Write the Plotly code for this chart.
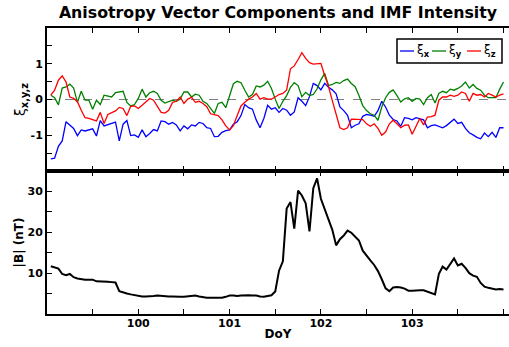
import plotly.graph_objects as go

# ---------------- data (hourly samples, DoY 99-104) ----------------
hours = list(range(1, 121))
doy = [99 + h / 24 for h in hours]

xi_x = [-1.66, -1.64, -1.31, -1.16, -0.62, -0.71, -0.81, -1.01, -0.85, -0.88,
        -0.85, -0.82, -1.02, -0.59, -0.74, -0.70, -0.67, -0.63, -1.16, -0.69,
        -0.59, -1.01, -0.99, -1.06, -0.85, -1.04, -0.95, -0.84, -0.88, -0.60,
        -0.62, -0.69, -0.64, -0.71, -0.88, -0.74, -0.82, -0.71, -0.74, -0.64,
        -0.67, -0.79, -0.81, -1.04, -1.03, -0.92, -0.87, -0.85, -0.69, -0.62,
        -0.45, -0.14, -0.23, -0.27, -0.57, -0.79, -0.53, -0.16, -0.27, -0.23,
        -0.36, -0.25, -0.30, -0.44, -0.35, 0.05, -0.05, -0.17, 0.08, 0.45,
        0.39, 0.27, 0.45, 0.34, 0.27, 0.16, -0.21, -0.31, -0.44, -0.79,
        -0.72, -0.68, -0.47, -0.42, -0.44, -0.47, -0.31, -0.05, -0.21, -0.44,
        -0.56, -0.60, -0.75, -0.51, -0.53, -0.57, -0.51, -0.53, -0.57, -0.79,
        -0.73, -0.71, -0.76, -0.79, -0.73, -0.64, -0.55, -0.67, -0.64, -0.81,
        -0.93, -0.99, -1.06, -1.10, -0.94, -1.04, -0.92, -1.06, -0.79, -0.79]

xi_y = [0.12, 0.05, -0.15, 0.32, 0.35, 0.43, 0.32, -0.08, 0.23, -0.02,
        -0.02, -0.27, -0.02, -0.14, 0.12, 0.09, 0.07, 0.19, 0.21, 0.23,
        -0.08, -0.18, -0.14, 0.03, 0.29, 0.07, 0.19, 0.23, 0.17, -0.02,
        -0.10, -0.05, -0.02, -0.05, 0.01, 0.21, 0.21, 0.07, 0.15, 0.12,
        -0.05, -0.11, -0.25, -0.39, -0.11, -0.08, -0.23, 0.12, 0.44, 0.51,
        0.47, 0.26, 0.07, 0.14, 0.38, 0.35, 0.40, 0.51, 0.31, 0.01,
        -0.25, -0.05, 0.11, 0.34, 0.47, 0.39, 0.08, 0.20, 0.11, 0.14,
        0.30, 0.55, 0.73, 0.39, 0.42, 0.48, 0.45, 0.53, 0.57, 0.45,
        0.36, 0.11, -0.17, -0.31, -0.40, -0.44, -0.58, -0.21, 0.05, 0.20,
        0.27, 0.11, -0.07, 0.02, 0.05, -0.05, 0.03, 0.01, -0.14, 0.05,
        0.14, -0.10, 0.17, 0.23, 0.19, 0.29, 0.26, 0.31, 0.38, 0.49,
        0.32, 0.42, 0.31, 0.26, 0.12, 0.05, 0.05, 0.05, 0.29, 0.49]

xi_z = [0.12, 0.26, 0.54, 0.66, 0.49, 0.07, 0.03, -0.06, -0.30, -0.51,
        -0.53, -0.57, -0.60, -0.36, -0.67, -0.42, -0.37, -0.32, -0.22, -0.25,
        -0.45, -0.19, -0.18, -0.25, -0.16, -0.05, 0.03, -0.02, -0.18, -0.36,
        -0.38, -0.30, -0.08, -0.05, 0.07, -0.11, 0.01, 0.06, -0.08, -0.05,
        -0.11, -0.20, -0.40, -0.42, -0.45, -0.57, -0.74, -0.85, -0.73, -0.45,
        -0.18, -0.08, 0.01, 0.07, 0.17, 0.01, 0.05, 0.01, 0.01, 0.07,
        0.14, 0.17, 0.27, 0.86, 0.94, 1.12, 1.31, 1.15, 1.03, 0.99,
        0.99, 1.01, 0.67, 0.36, -0.03, -0.44, -0.79, -0.84, -0.79, -0.55,
        -0.56, -0.55, -0.56, -0.68, -0.75, -0.68, -0.81, -1.00, -0.91, -0.68,
        -0.58, -0.68, -0.79, -0.72, -0.71, -0.97, -0.73, -0.53, -0.71, -0.49,
        -0.48, -0.44, -0.02, 0.07, 0.07, 0.12, 0.09, 0.12, 0.21, 0.17,
        -0.05, 0.17, 0.12, 0.14, 0.07, 0.17, 0.12, 0.07, 0.12, 0.16]

b_mag = [11.7, 11.3, 11.1, 9.8, 9.5, 9.8, 9.0, 8.7, 8.5, 8.4,
         8.4, 8.4, 8.0, 8.0, 8.0, 7.9, 7.8, 7.7, 5.6, 5.2,
         5.0, 4.8, 4.6, 4.4, 4.3, 4.3, 4.3, 4.4, 4.5, 4.4,
         4.4, 4.3, 4.3, 4.2, 4.2, 4.2, 4.3, 4.3, 4.5, 4.3,
         4.1, 4.0, 4.0, 4.0, 4.0, 4.0, 4.2, 4.5, 4.5, 4.4,
         4.5, 4.6, 4.6, 4.5, 4.5, 4.3, 4.2, 4.4, 4.6, 5.5,
         10.6, 12.9, 25.8, 27.4, 20.9, 30.2, 29.0, 27.1, 20.2, 30.8,
         33.2, 28.2, 25.8, 23.2, 20.6, 16.8, 18.3, 19.2, 20.4, 19.9,
         19.0, 18.0, 15.5, 14.2, 13.1, 12.0, 10.5, 8.5, 6.3, 5.6,
         6.5, 6.6, 6.5, 6.2, 5.7, 5.7, 5.8, 5.8, 5.8, 5.5,
         5.1, 4.8, 9.8, 11.6, 10.9, 12.2, 13.6, 11.9, 12.3, 11.3,
         10.0, 9.4, 9.1, 7.6, 6.7, 6.4, 6.2, 6.0, 6.1, 6.0]

series_names = ["ξ<sub><b>x</b></sub>", "ξ<sub><b>y</b></sub>", "ξ<sub><b>z</b></sub>"]
series_colors = ["#0000ff", "#008000", "#ff0000"]

x_major = [100, 101, 102, 103]
x_major_text = ["100", "101", "102", "103"]
x_minor = [99.5, 100.5, 101.5, 102.5, 103.5, 104]
xi_major = [-1, 0, 1]
xi_major_text = ["-1", "0", "1"]
xi_minor = [-1.5, -0.5, 0.5, 1.5]
b_major = [10, 20, 30]
b_major_text = ["10", "20", "30"]
b_minor = [5, 15, 25]

# ---------------- figure ----------------
W, H = 509, 347
L, R, T, B = 47, 0, 28, 33
px_per_day = 91.3
x_range = [99, 99 + (W - L - R) / px_per_day]

fig = go.Figure()

for vals, name, col in zip([xi_x, xi_y, xi_z], series_names, series_colors):
    fig.add_trace(go.Scatter(x=doy, y=vals, mode="lines", name=name,
                             line=dict(color=col, width=1.3),
                             xaxis="x2", yaxis="y2", showlegend=False,
                             hoverinfo="skip"))

fig.add_trace(go.Scatter(x=doy, y=b_mag, mode="lines", name="|B|",
                         line=dict(color="black", width=2),
                         xaxis="x", yaxis="y", showlegend=False,
                         hoverinfo="skip"))

tickfont = dict(family="DejaVu Sans", size=11, color="black", weight="bold")
base = dict(ticks="inside", ticklen=5, tickwidth=1.3, tickcolor="black",
            linecolor="black", linewidth=2, showgrid=False, zeroline=False,
            tickfont=tickfont)


def minor(vals):
    return dict(tickvals=vals, ticks="inside", ticklen=5, tickwidth=1.3,
                tickcolor="black", showgrid=False)


fig.update_layout(
    width=W, height=H,
    margin=dict(l=L, r=R, t=T, b=B, pad=0),
    paper_bgcolor="white", plot_bgcolor="white",
    title=dict(text="<b>Anisotropy Vector Components and IMF Intensity</b>",
               font=dict(family="DejaVu Sans", size=15.8, color="black"),
               x=0.5, xref="paper", xanchor="center",
               y=1 - 12 / H, yref="container", yanchor="middle"),
    xaxis=dict(base, domain=[0, 1], anchor="y", range=x_range,
               tickvals=x_major, ticktext=x_major_text, minor=minor(x_minor),
               showline=True, mirror="ticks", ticklabelstandoff=-2,
               title=dict(text="<b>DoY</b>", standoff=0,
                          font=dict(family="DejaVu Sans", size=12, color="black"))),
    xaxis2=dict(base, domain=[0, 1], anchor="y2", matches="x", range=x_range,
                tickvals=x_major, minor=minor(x_minor), showticklabels=False,
                showline=True, mirror="ticks"),
    yaxis=dict(base, domain=[0, 0.5], anchor="x", range=[0, 35],
               tickvals=b_major, ticktext=b_major_text, minor=minor(b_minor),
               showline=True,
               title=dict(text="<b>|B| (nT)</b>", standoff=1,
                          font=dict(family="DejaVu Sans", size=12, color="black"))),
    yaxis2=dict(base, domain=[0.5, 1], anchor="x2", range=[-2, 2],
                tickvals=xi_major, ticktext=xi_major_text, minor=minor(xi_minor),
                showline=True,
                title=dict(text="ξ<sub><b>x,y,z</b></sub>", standoff=2,
                           font=dict(family="DejaVu Sans", size=14, color="black"))),
    yaxis3=dict(base, overlaying="y2", anchor="x2", side="right", range=[-2, 2],
                tickvals=xi_major, minor=minor(xi_minor),
                showticklabels=False, showline=False),
    yaxis4=dict(base, overlaying="y", anchor="x", side="right", range=[0, 35],
                tickvals=b_major, minor=minor(b_minor),
                showticklabels=False, showline=False),
)

# dashed zero reference line in the top panel
fig.add_shape(type="line", xref="x2 domain", yref="y2", x0=0, x1=1, y0=0, y1=0,
              line=dict(color="#808080", width=1, dash="dash"), layer="below")

# compact legend box (top-right of upper panel)
def px2paper_x(px):
    return (px - L) / (W - L - R)


def px2paper_y(py):
    return (H - B - py) / (H - T - B)


fig.add_shape(type="rect", xref="paper", yref="paper",
              x0=px2paper_x(397), x1=px2paper_x(502),
              y0=px2paper_y(63), y1=px2paper_y(39),
              line=dict(color="black", width=1.5), fillcolor="white")
leg_x0 = [400, 432, 467]
for i, (name, col) in enumerate(zip(series_names, series_colors)):
    fig.add_shape(type="line", xref="paper", yref="paper",
                  x0=px2paper_x(leg_x0[i]), x1=px2paper_x(leg_x0[i] + 14),
                  y0=px2paper_y(51), y1=px2paper_y(51),
                  line=dict(color=col, width=1.3))
    fig.add_annotation(xref="paper", yref="paper", x=px2paper_x(leg_x0[i] + 15),
                       y=px2paper_y(51), xanchor="left", yanchor="middle",
                       text=name, showarrow=False,
                       font=dict(family="DejaVu Sans", size=12, color="black"))

fig.write_html("out.html")
